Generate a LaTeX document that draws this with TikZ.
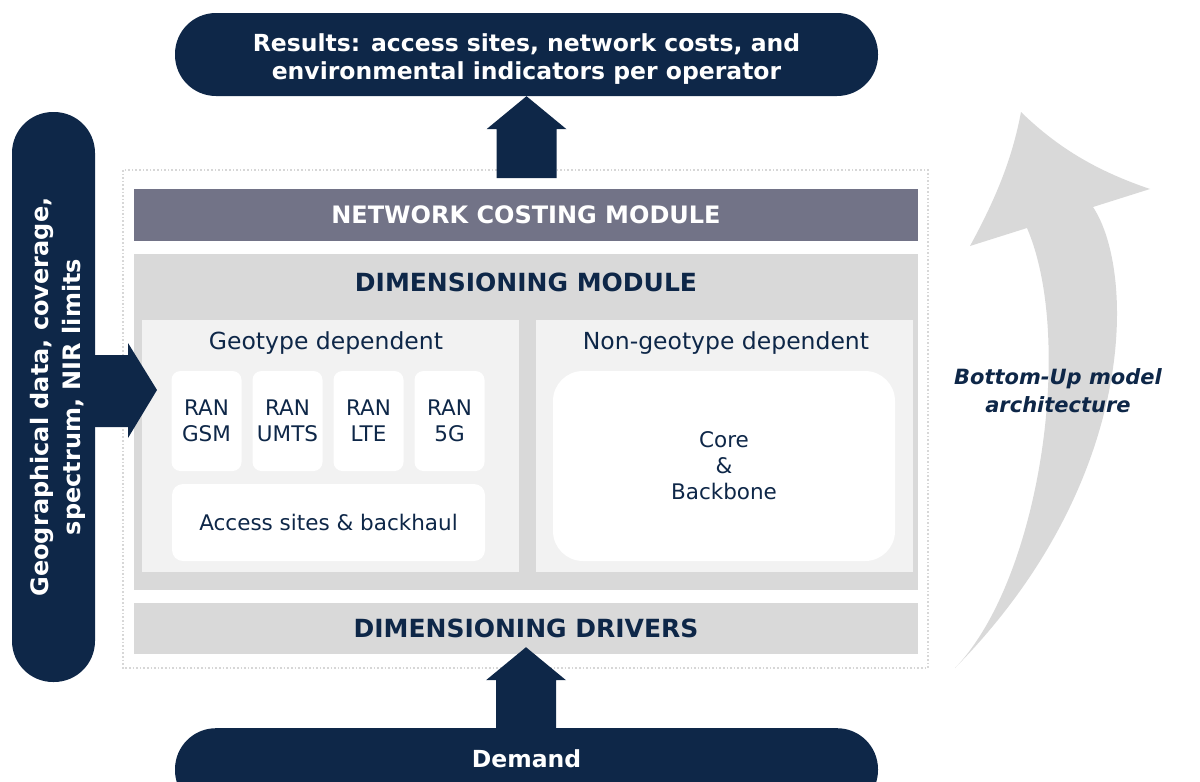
\documentclass[tikz,border=0pt]{standalone}
\usepackage{fontspec}
\setmainfont{DejaVu Sans}
\usetikzlibrary{positioning,calc}
\definecolor{navy}{RGB}{14,39,72}
\definecolor{slate}{RGB}{114,115,135}
\definecolor{midgrey}{RGB}{217,217,217}
\definecolor{palegrey}{RGB}{242,242,242}
\definecolor{dotgrey}{RGB}{215,215,215}

\begin{document}
\begin{tikzpicture}[x=1pt,y=-1pt,
    pill/.style={fill=navy,text=white,font=\fontsize{23.5}{28}\selectfont\bfseries,align=center,inner sep=0pt},
    band/.style={fill=midgrey,text=navy,font=\fontsize{25}{28}\selectfont\bfseries,minimum width=784pt,inner sep=0pt},
    panel/.style={fill=palegrey,minimum width=377pt,minimum height=252pt,inner sep=0pt},
    cell/.style={fill=white,text=navy,font=\fontsize{21.5}{26}\selectfont,align=center,inner sep=0pt,rounded corners=9pt},
    heading/.style={text=navy,font=\fontsize{23.5}{28}\selectfont,inner sep=0pt}]
  \useasboundingbox (0,0) rectangle (1200,782);

  % bottom-up sweep
  \fill[midgrey] (955,668) .. controls (1040,580) and (1075,340) .. (1027,228)
    -- (970,246) .. controls (995,200) and (1012,160) .. (1021,112)
    .. controls (1060,150) and (1100,172) .. (1150,189)
    -- (1093,207) .. controls (1135,270) and (1140,480) .. cycle;
  \node[text=navy,font=\fontsize{21}{28}\selectfont\bfseries\itshape,align=center] (bottomup) at (1058,391) {Bottom-Up model\\architecture};

  % outer frame
  \draw[dotgrey,line width=1.6pt,dotted] (123,170) rectangle (928,668);

  \node[pill,minimum width=703pt,minimum height=83pt,rounded corners=41pt] (results) at (526.5,54.5)
    {\raisebox{-5pt}[\height][\depth]{\begin{tabular}{@{}c@{}}Results: access sites, network costs, and\\environmental indicators per operator\end{tabular}}};
  \node[pill,font=\fontsize{24}{32}\selectfont\bfseries,minimum width=570pt,minimum height=83pt,rounded corners=41pt,rotate=90] (inputs) at (53.5,397)
    {\raisebox{-4.5pt}[\height][\depth]{\begin{tabular}{@{}c@{}}Geographical data, coverage,\\spectrum, NIR limits\end{tabular}}};
  \node[pill,minimum width=703pt,minimum height=83pt,rounded corners=41pt,anchor=north] (demand) at (526.5,728)
    {\raisebox{11pt}[\height][\depth]{Demand}};

  \node[band,fill=slate,text=white,font=\fontsize{24}{28}\selectfont\bfseries,minimum height=52pt] (costing) at (526,215) {NETWORK COSTING MODULE};
  \node[band,minimum height=336pt] (dimmod) at (526,422) {};
  \node[heading,font=\fontsize{25}{28}\selectfont\bfseries] (dimtitle) at (526,282) {DIMENSIONING MODULE};
  \node[band,minimum height=51pt] (drivers) at (526,628.5) {DIMENSIONING DRIVERS};

  \node[panel] (geo) at (330.5,446) {};
  \node[panel] (nongeo) at (724.5,446) {};
  \node[heading] (geotitle) at (326,343) {Geotype dependent};
  \node[heading] (nongeotitle) at (726,343) {Non-geotype dependent};

  \foreach \t [count=\i] in {GSM,UMTS,LTE,5G}{
    \pgfmathsetmacro{\x}{206.5+(\i-1)*81}
    \node[cell,minimum width=70pt,minimum height=100pt] (ran\i) at (\x,421) {RAN\\\t};
  }
  \node[cell,minimum width=313pt,minimum height=77pt,rounded corners=11pt] (access) at (328.5,522.5) {Access sites \& backhaul};
  \node[cell,minimum width=342pt,minimum height=190pt,rounded corners=30pt] (core) at (724,466) {Core\\\&\\Backbone};

  % block arrows
  \fill[navy] (results.south) -- ++(40,33) -- ++(-10,0) -- ++(0,49) -- ++(-60,0) -- ++(0,-49) -- ++(-10,0) -- cycle;
  \fill[navy] ($(drivers.south)+(0,-7)$) -- ++(40,33) -- ++(-10,0) -- ++(0,50) -- ++(-60,0) -- ++(0,-50) -- ++(-10,0) -- cycle;
  \fill[navy] (157,390) -- ++(-29,-47) -- ++(0,12) -- ++(-40,0) -- ++(0,72) -- ++(40,0) -- ++(0,11) -- cycle;
\end{tikzpicture}
\end{document}
